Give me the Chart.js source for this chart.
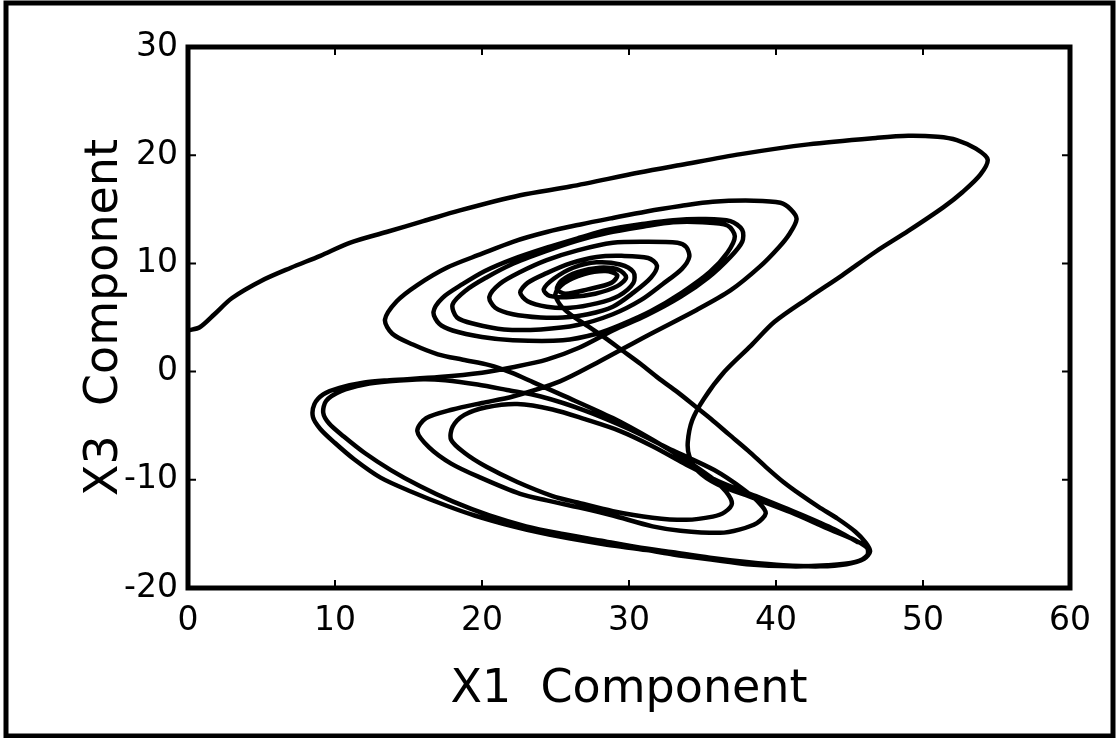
<!DOCTYPE html>
<html lang="en">
<head>
  <meta charset="UTF-8">
  <title>X1 vs X3 Component</title>
  <script src="https://cdn.jsdelivr.net/npm/chart.js"></script>
  <style>
    body { margin: 0; background: #fff; }
    #wrap { width: 1117px; height: 738px; }
  </style>
</head>
<body>

  <div id="wrap">
    <canvas id="grafico" width="1117" height="738"></canvas>
  </div>

  <script>
    // Axis ranges and tick steps
    const xTicks = [0, 10, 20, 30, 40, 50, 60];
    const yTicks = [-20, -10, 0, 10, 20, 30];

    // Trajectory pieces, [x1, x3], in drawing order

    // start at the left edge, big outer arc, then down to the lower tip
    const transient = [
      [0, 3.8], [0.8, 4.1], [1.8, 5.3], [3, 6.8], [5, 8.4], [7, 9.6], [9, 10.7], [11, 11.9],
      [13.5, 12.9], [16, 13.9], [18.5, 14.9], [22.6, 16.3], [26, 17.1], [30.7, 18.4], [33.5, 19.1],
      [37.6, 20.1], [42.2, 21.0], [46.8, 21.6], [49, 21.8], [51, 21.7], [52.3, 21.4], [53.6, 20.6],
      [54.4, 19.6], [53.9, 18.2], [52.7, 16.6], [51.4, 15.2], [49, 13], [46.8, 11.1], [44.5, 8.9],
      [42.2, 6.8], [39.9, 4.6], [38.3, 2.4], [36.5, 0], [35.1, -2.5], [34.3, -4.5], [34, -6.5],
      [34.1, -7.8], [34.7, -9.2], [36, -10.4], [38.5, -11.7], [41, -13], [43.5, -14.5],
      [45.4, -15.6], [46.2, -16.3]
    ];

    // outer lower loop, first pass, then up into the upper spiral
    const lowerOuterA = [
      [46.2, -17.0], [45.4, -17.6], [43.5, -17.9], [41, -18], [38, -17.8], [35.7, -17.4],
      [33, -16.9], [31.2, -16.5], [28.5, -16], [26.7, -15.6], [24, -14.9], [22.1, -14.3],
      [19.5, -13.3], [17.6, -12.4], [15.2, -11.1], [13.1, -9.8], [11.3, -8.1], [10, -6.6],
      [9, -5.3], [8.5, -4.2], [8.6, -3], [9.2, -2.1], [10.3, -1.5], [12, -1], [13.7, -0.8],
      [17.1, -0.5], [20, -0.1], [22.1, 0.4], [24.4, 1.1], [26.6, 2.2], [28.9, 3.8]
    ];

    // upper spiral winding in to the centre
    const upperSpiral = [
      [31.2, 5.2], [33.5, 6.9], [35.4, 8.7], [36.9, 10.6], [37.7, 12], [37.7, 13.1], [36.9, 13.9],
      [35, 14.1], [33, 14], [31.2, 13.7], [28.5, 13.1], [26.7, 12.4], [24.5, 11.5], [22.1, 10.4],
      [20.2, 9.3], [18.7, 8.1], [17.3, 6.8], [16.7, 5.5], [17.1, 4.4], [18, 3.8], [20, 3.2],
      [22.1, 2.9], [25.5, 2.9], [27.8, 3.5], [29.4, 4.3], [31.5, 5.6], [33.6, 7.3], [35.5, 9.2],
      [36.7, 11], [37.2, 12.5], [36.7, 13.5], [35, 13.8], [33, 13.8], [31, 13.4], [28.5, 12.8],
      [26.5, 12.1], [24.3, 11.1], [22, 9.9], [20.3, 8.7], [18.9, 7.5], [18, 6.2], [18.3, 5],
      [19.5, 4.4], [21.5, 3.9], [24, 3.9], [26.5, 4.3], [28.9, 5.3], [30.8, 6.6], [32.3, 8.1],
      [33.6, 9.5], [34.1, 10.6], [33.9, 11.5], [33.3, 11.9], [31, 12], [28.9, 11.9], [26.5, 11.2],
      [24.4, 10.3], [22.6, 9.2], [21.2, 8.1], [20.5, 6.9], [20.9, 5.9], [22.1, 5.3], [24, 5],
      [25.5, 5], [27.2, 5.3], [28.9, 6], [30.3, 7.3], [31.5, 8.7], [31.9, 9.8], [31.3, 10.5],
      [29.5, 10.7], [27.8, 10.6], [26, 10], [24.4, 9.1], [23.1, 8.2], [22.6, 7.3], [23.1, 6.5],
      [24.4, 6], [26, 5.9], [27.8, 6.3], [29.3, 7], [30.3, 8.2], [30.3, 9.2], [29.4, 9.9],
      [27.8, 10.1], [26.2, 9.6], [24.9, 8.6], [24.2, 7.6], [24.6, 7], [26, 6.9], [27.7, 7.2],
      [29.2, 7.9], [29.8, 8.7], [29.3, 9.4], [28, 9.6], [26.5, 9.2], [25.4, 8.4], [25.1, 7.6],
      [25.7, 7.2], [27.2, 7.6], [28.8, 8.2], [29.2, 8.9], [28.4, 9.3], [26.9, 9], [25.6, 8.2],
      [25, 7.2], [25.3, 6.2]
    ];

    // straight run from the spiral centre down to the lower tip
    const diagonal = [
      [26, 5.3], [27.2, 4.2], [28.4, 3.1], [29.6, 1.9], [30.8, 0.7], [32, -0.6], [33.3, -1.9],
      [34.5, -3.2], [35.6, -4.4], [36.8, -5.8], [38.1, -7.3], [39.3, -8.8], [40.5, -10.2],
      [41.7, -11.4], [42.9, -12.5], [44.2, -13.6], [45.4, -14.8], [46.1, -15.8], [46.4, -16.6]
    ];

    // outer lower loop, second pass, then back down to the middle loop tip
    const lowerOuterB = [
      [46, -17.3], [44.8, -17.8], [43, -18], [40.5, -17.9], [38, -17.6], [35.5, -17.2],
      [33, -16.7], [30.5, -16.2], [28, -15.6], [25.5, -15], [23, -14.3], [20.5, -13.3],
      [18, -12], [15.8, -10.6], [13.8, -9.1], [12, -7.5], [10.6, -6], [9.6, -4.8], [9.2, -3.8],
      [9.4, -2.7], [10.4, -1.8], [12, -1.2], [13.7, -0.9], [16, -0.7], [17.5, -0.8],
      [19.7, -1.2], [21.7, -1.7], [24, -2.3], [27, -3.6], [30, -5.3], [33, -7.3], [35.8, -9.1],
      [37.8, -10.9], [38.9, -12.2], [39.3, -13.1]
    ];

    // middle lower loop, rise into the widest upper loop and back down
    const lowerMiddle = [
      [38.7, -14], [37.5, -14.6], [36.2, -14.9], [33.5, -14.7], [31.6, -14.3], [28.9, -13.3],
      [27.1, -12.7], [24.4, -11.9], [22.6, -11.3], [19.9, -9.8], [17.9, -8.5], [16.4, -7],
      [15.6, -5.5], [16.2, -4.3], [18, -3.5], [20, -2.9], [22.1, -2.3], [25.3, -0.9], [27.8, 0.8],
      [31.2, 3.3], [34.6, 5.7], [36.9, 7.5], [38.9, 9.7], [40.2, 11.5], [40.9, 12.7], [41.4, 14.1],
      [41, 15], [40.3, 15.6], [38.5, 15.8], [35.7, 15.7], [33.5, 15.3], [31.2, 14.8], [28.9, 14.2],
      [26.7, 13.6], [24.4, 12.9], [22.1, 12], [20, 10.9], [17.6, 9.6], [15.6, 8], [14.2, 6.5],
      [13.4, 4.8], [13.9, 3.5], [15.3, 2.5], [17, 1.6], [18.7, 1.1], [20.5, 0.6], [22, -0.1],
      [23.5, -1], [25.5, -2.2], [28.9, -4.3], [31.6, -6.3], [33.9, -8.2], [35.6, -9.8],
      [36.6, -11.1], [37, -12.2]
    ];

    // inner lower loop, ending in the bundle towards the tip
    const lowerInner = [
      [36.5, -13], [35.7, -13.4], [33.9, -13.7], [31.6, -13.5], [28.9, -12.9], [26.5, -12.1],
      [24.8, -11.5], [22.4, -10.2], [20.3, -8.8], [18.8, -7.5], [17.9, -6.3], [18, -5.1],
      [18.8, -4], [20.3, -3.3], [22.4, -3], [24.8, -3.5], [27, -4.4], [29.4, -5.5], [31.6, -6.9],
      [33.9, -8.6], [36.2, -10.2], [38.8, -11.6], [41.5, -13.1], [44, -14.6], [45.6, -15.8]
    ];

    const trayectoria = [].concat(transient, lowerOuterA, upperSpiral, diagonal,
                                  lowerOuterB, lowerMiddle, lowerInner)
                          .map(([x, y]) => ({ x: x, y: y }));

    Chart.defaults.font.family = "'DejaVu Sans', sans-serif";
    Chart.defaults.color = '#000';

    // white page, outer border, heavy plot frame and inward ticks
    const marco = {
      id: 'marco',
      beforeDraw(chart) {
        const c = chart.ctx;
        c.save();
        c.fillStyle = '#fff';
        c.fillRect(0, 0, chart.width, chart.height);
        c.strokeStyle = '#000';
        c.lineWidth = 5;
        c.strokeRect(6, 3, chart.width - 10, chart.height - 5);
        c.restore();
      },
      afterDraw(chart) {
        const c = chart.ctx;
        const a = chart.chartArea;
        const sx = chart.scales.x;
        const sy = chart.scales.y;
        c.save();
        c.strokeStyle = '#000';
        c.lineWidth = 2;
        c.beginPath();
        xTicks.forEach(v => {
          const px = sx.getPixelForValue(v);
          c.moveTo(px, a.bottom); c.lineTo(px, a.bottom - 8);
          c.moveTo(px, a.top); c.lineTo(px, a.top + 8);
        });
        yTicks.forEach(v => {
          const py = sy.getPixelForValue(v);
          c.moveTo(a.left, py); c.lineTo(a.left + 8, py);
          c.moveTo(a.right, py); c.lineTo(a.right - 8, py);
        });
        c.stroke();
        c.lineWidth = 5;
        c.strokeRect(a.left, a.top, a.right - a.left, a.bottom - a.top);
        c.restore();
      }
    };

    const ctx = document.getElementById('grafico').getContext('2d');
    const grafico = new Chart(ctx, {
      type: 'scatter',
      data: {
        datasets: [{
          data: trayectoria,
          showLine: true,
          borderColor: '#000',
          borderWidth: 4.5,
          pointRadius: 0,
          tension: 0.3,
          fill: false
        }]
      },
      options: {
        responsive: false,
        animation: false,
        devicePixelRatio: 1,
        layout: { padding: { left: 73, top: 47, right: 47, bottom: 16 } },
        plugins: { legend: { display: false }, tooltip: { enabled: false } },
        scales: {
          x: {
            type: 'linear',
            min: xTicks[0],
            max: xTicks[xTicks.length - 1],
            afterBuildTicks: s => { s.ticks = xTicks.map(v => ({ value: v })); },
            afterFit: s => { s.height = 134; },
            grid: { display: false, drawTicks: false },
            border: { display: false },
            ticks: { font: { size: 33 }, padding: 14, color: '#000' },
            title: { display: true, text: 'X1  Component', font: { size: 46 }, color: '#000',
                     padding: { top: 4, bottom: 4 } }
          },
          y: {
            type: 'linear',
            min: yTicks[0],
            max: yTicks[yTicks.length - 1],
            afterBuildTicks: s => { s.ticks = yTicks.map(v => ({ value: v })); },
            afterFit: s => { s.width = 115; },
            grid: { display: false, drawTicks: false },
            border: { display: false },
            ticks: { font: { size: 33 }, padding: 10, color: '#000' },
            title: { display: true, text: 'X3  Component', font: { size: 46 }, color: '#000',
                     padding: { top: 4, bottom: 4 } }
          }
        }
      },
      plugins: [marco]
    });
  </script>

</body>
</html>
